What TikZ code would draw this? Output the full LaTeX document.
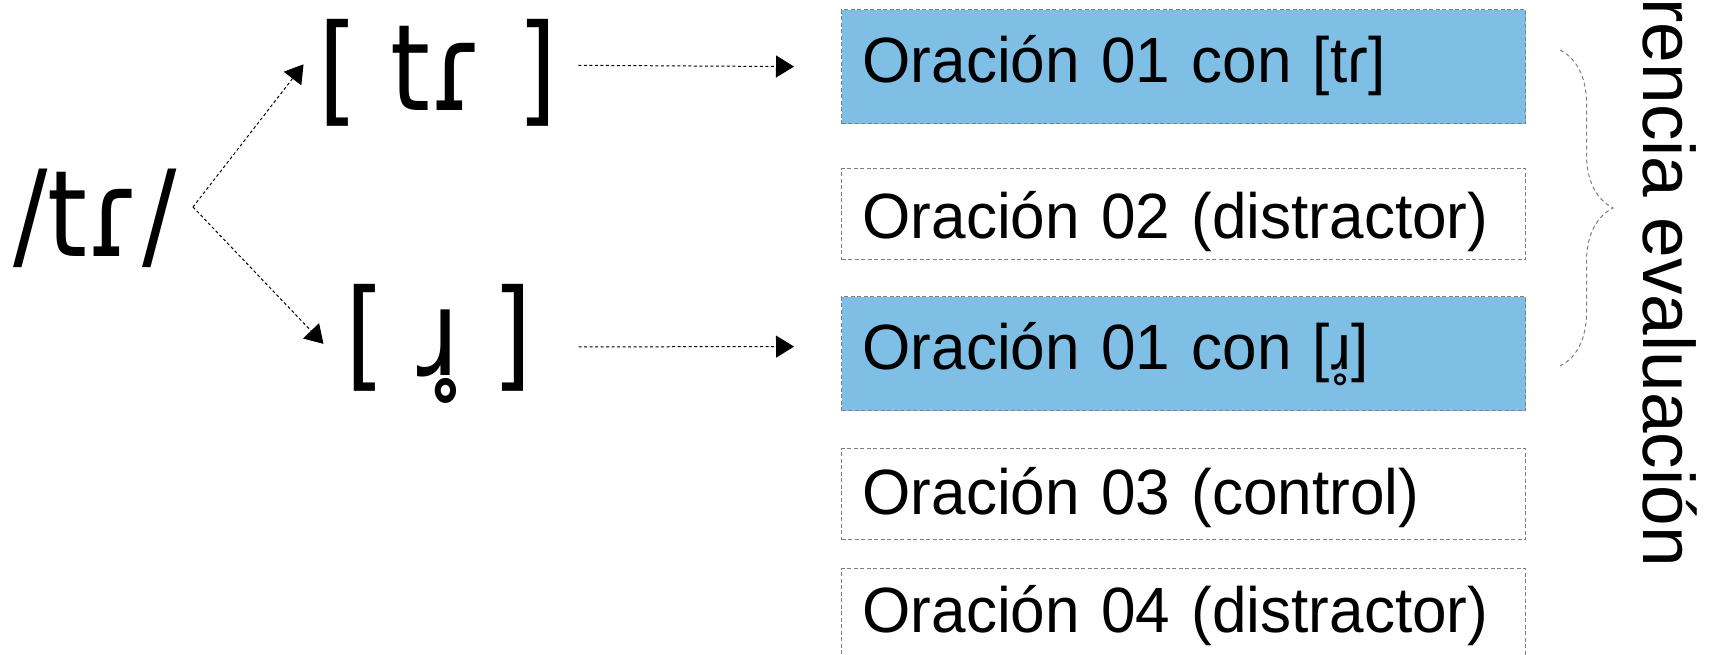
\documentclass[tikz,border=0pt]{standalone}
\usepackage{fontspec}
\setmainfont{Liberation Sans}
\newfontfamily\sentfont[FakeStretch=0.97]{Liberation Sans}
\newfontfamily\ipafont[FakeStretch=0.85]{DejaVu Sans}
\usetikzlibrary{arrows.meta}
\usetikzlibrary{decorations.pathreplacing}
\definecolor{sentblue}{RGB}{127,191,230}
\definecolor{boxgray}{RGB}{128,128,128}
\tikzset{
  sent/.style={draw=boxgray, line width=1.2pt, dash pattern=on 4pt off 2.5pt,
    anchor=north west, minimum width=684pt, text width=642pt, inner xsep=21pt,
    inner ysep=0pt, align=left, text height=70pt, text depth=21pt,
    font=\sentfont\fontsize{64}{70}\selectfont},
  target/.style={sent, fill=sentblue, text height=73pt, text depth=41pt},
  ipa/.style={inner sep=0pt, font=\ipafont\fontsize{120}{125}\selectfont},
  link/.style={-{Triangle[length=18pt,width=22pt]}, line width=1pt,
    dash pattern=on 3pt off 2.5pt},
  evalbrace/.style={draw=boxgray, line width=1pt, dash pattern=on 4pt off 3pt,
    decorate, decoration={brace, amplitude=53pt}},
}
\begin{document}
\begin{tikzpicture}[x=1pt,y=-1pt]
  \useasboundingbox (0,0) rectangle (1709,655);

  % phoneme and its two realisations
  \node[ipa, anchor=base] (tr) at (95,257) {/tɾ/};
  \node[ipa, anchor=base] (tap) at (438,111) {[ tɾ ]};
  \node[ipa, anchor=base] (approx) at (439,375) {[ ɹ̥ ]};
  \coordinate (split) at (193,207);

  \draw[link] (split) -- ([shift={(-15pt,9pt)}]tap.west);
  \draw[link] (split) -- ([shift={(-22pt,0pt)}]approx.west);

  % sentences
  \node[target] (s1) at (841,9) {Oración 01 con [tɾ]};
  \node[sent] (s2) at (841,168) {Oración 02 (distractor)};
  \node[target] (s3) at (841,296) {Oración 01 con [ɹ̥]};
  \node[sent, text height=66pt, text depth=25pt] (s4) at (841,448) {Oración 03 (control)};
  \node[sent, text height=64pt, text depth=27pt] (s5) at (841,568) {Oración 04 (distractor)};

  \draw[link] ([shift={(21pt,8pt)}]tap.east) -- ([xshift=-47pt]s1.west);
  \draw[link] ([shift={(46pt,-3pt)}]approx.east) -- ([shift={(-47pt,7pt)}]s3.west);

  \draw[evalbrace] (1560,50) -- (1560,366);
  \node[rotate=-90, anchor=base east, inner sep=0pt,
    font=\fontsize{73}{80}\selectfont] (evaltitle) at (1643,567) {rencia evaluación};
\end{tikzpicture}
\end{document}
